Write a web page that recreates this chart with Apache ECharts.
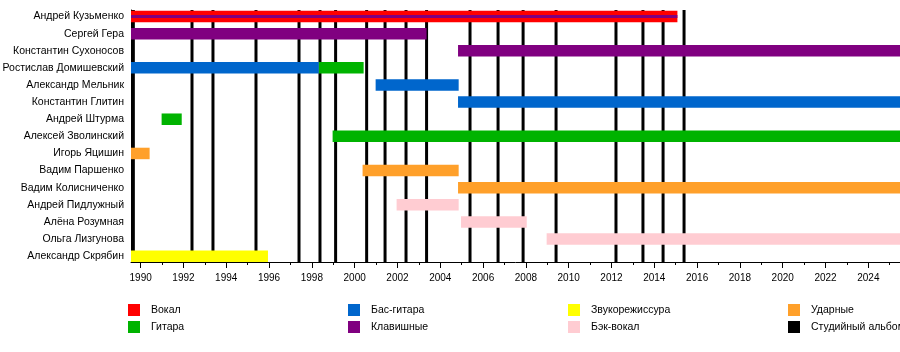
<!DOCTYPE html>
<html>
<head>
<meta charset="utf-8">
<script src="https://cdn.jsdelivr.net/npm/echarts@6/dist/echarts.min.js"></script>
<style>
html,body{margin:0;padding:0;background:#fff;}
#chart{width:900px;height:352px;}
</style>
</head>
<body>
<div id="chart"></div>
<script>
// ---- data ----
const members = ['Андрей Кузьменко','Сергей Гера','Константин Сухоносов','Ростислав Домишевский','Александр Мельник','Константин Глитин','Андрей Штурма','Алексей Зволинский','Игорь Яцишин','Вадим Паршенко','Вадим Колисниченко','Андрей Пидлужный','Алёна Розумная','Ольга Лизгунова','Александр Скрябин'];
const roles = ['Вокал','Гитара','Бас-гитара','Клавишные','Звукорежиссура','Бэк-вокал','Ударные','Студийный альбом'];
const timelineStart = 1989.55;
const timelineEnd = 2025.48;
// [member index, start year, end year, role]
const periods = [
  [0, 1989.55, 2015.08, 'Вокал'],
  [1, 1989.55, 2003.36, 'Клавишные'],
  [2, 2004.83, 2025.48, 'Клавишные'],
  [3, 1989.55, 1998.32, 'Бас-гитара'],
  [3, 1998.32, 2000.42, 'Гитара'],
  [4, 2000.98, 2004.86, 'Бас-гитара'],
  [5, 2004.83, 2025.48, 'Бас-гитара'],
  [6, 1990.98, 1991.92, 'Гитара'],
  [7, 1998.97, 2025.48, 'Гитара'],
  [8, 1989.55, 1990.42, 'Ударные'],
  [9, 2000.37, 2004.86, 'Ударные'],
  [10, 2004.83, 2025.48, 'Ударные'],
  [11, 2001.96, 2004.86, 'Бэк-вокал'],
  [12, 2004.97, 2008.04, 'Бэк-вокал'],
  [13, 2008.97, 2025.48, 'Бэк-вокал'],
  [14, 1989.55, 1995.95, 'Звукорежиссура']
];
// secondary roles (drawn as thin bars)
const secondaryPeriods = [
  [0, 1989.55, 2015.08, 'Клавишные']
];
const studioAlbums = [1989.66, 1992.40, 1993.38, 1995.39, 1997.40, 1998.38, 1999.11, 2000.56, 2001.42, 2002.40, 2003.36, 2005.39, 2006.70, 2007.87, 2009.41, 2012.21, 2013.47, 2014.41, 2015.39];
const majorTicks = [1990,1992,1994,1996,1998,2000,2002,2004,2006,2008,2010,2012,2014,2016,2018,2020,2022,2024];
const minorTicks = [1990,1991,1992,1993,1994,1995,1996,1997,1998,1999,2000,2001,2002,2003,2004,2005,2006,2007,2008,2009,2010,2011,2012,2013,2014,2015,2016,2017,2018,2019,2020,2021,2022,2023,2024,2025];

// ---- styles ----
const roleColors = {
  'Вокал':'#FF0000','Гитара':'#00B300','Бас-гитара':'#0066CC','Клавишные':'#800080',
  'Звукорежиссура':'#FFFF00','Бэк-вокал':'#FFCCD2','Ударные':'#FFA02A','Студийный альбом':'#000000'
};
const FONT = '"Liberation Sans", Arial, sans-serif';
const BAR_H = 11.5, THIN_H = 3;
const GRID_TOP = 10, GRID_BOTTOM = 90, CHART_H = 352;
const GRID_H = CHART_H - GRID_TOP - GRID_BOTTOM;

const chart = echarts.init(document.getElementById('chart'), null, {renderer:'canvas'});

function barRender(params, api){
  const r = api.value(0), s = api.value(1), e = api.value(2), layer = api.value(3);
  const p1 = api.coord([s, r]);
  const p2 = api.coord([e, r]);
  const h = layer ? THIN_H : BAR_H;
  const cs = params.coordSys;
  const x1 = Math.max(p1[0], cs.x), x2 = Math.min(p2[0], cs.x + cs.width);
  return {type:'rect', shape:{x:x1, y:p1[1]-h/2, width:x2-x1, height:h}, style:{fill: api.visual('color')}};
}

const series = [];
series.push({
  type:'custom', name:'Студийный альбом', z:1, silent:true,
  itemStyle:{color:roleColors['Студийный альбом']},
  encode:{x:0},
  data: studioAlbums.map(y=>[y]),
  renderItem:function(params, api){
    const x = api.coord([api.value(0), 0])[0];
    const cs = params.coordSys;
    return {type:'line', shape:{x1:x, y1:cs.y, x2:x, y2:cs.y+cs.height}, style:{stroke:'#000', lineWidth:3}};
  }
});
roles.filter(r=>r!=='Студийный альбом').forEach(role=>{
  const data = periods.filter(p=>p[3]===role).map(p=>[p[0],p[1],p[2],0])
    .concat(secondaryPeriods.filter(p=>p[3]===role).map(p=>[p[0],p[1],p[2],1]));
  series.push({
    type:'custom', name:role, z:2, silent:true,
    itemStyle:{color:roleColors[role]},
    encode:{y:0, x:[1,2]},
    data:data,
    renderItem:barRender
  });
});
// row labels
series.push({
  type:'custom', z:3, silent:true, clip:false,
  encode:{y:0},
  data: members.map((m,i)=>[i]),
  renderItem:function(params, api){
    const i = api.value(0);
    const p = api.coord([timelineStart, i]);
    return {type:'text', style:{text:members[i], x:p[0]-7, y:p[1], align:'right', verticalAlign:'middle', font:'10.5px '+FONT, fill:'#000'}};
  }
});

function legendCol(items, left){
  return {
    data: items, orient:'vertical', left:left, top:304, padding:0,
    itemWidth:12, itemHeight:12, itemGap:5, icon:'rect', selectedMode:false,
    textStyle:{fontSize:10.5, fontFamily:FONT, color:'#000', padding:[0,0,0,6]}
  };
}

chart.setOption({
  animation:false,
  backgroundColor:'#fff',
  grid:{left:131, right:0, top:GRID_TOP, bottom:GRID_BOTTOM, containLabel:false},
  xAxis:[{
    type:'value', min:timelineStart, max:timelineEnd, position:'bottom',
    axisLine:{show:true, onZero:false, lineStyle:{color:'#000', width:1}},
    axisTick:{show:true, length:6, customValues:majorTicks, lineStyle:{color:'#000', width:1}},
    axisLabel:{show:true, customValues:majorTicks, fontSize:10, fontFamily:FONT, color:'#000', margin:11, formatter:v=>String(Math.round(v))},
    splitLine:{show:false}
  },{
    // minor yearly ticks, moved down onto the bottom axis line
    type:'value', min:timelineStart, max:timelineEnd, position:'top', offset:-GRID_H,
    axisLine:{show:false, onZero:false},
    axisTick:{show:true, inside:true, length:3, customValues:minorTicks, lineStyle:{color:'#000', width:1}},
    axisLabel:{show:false},
    splitLine:{show:false}
  }],
  yAxis:{
    type:'value', inverse:true, min:-0.38, max:14.34,
    axisLine:{show:true, onZero:false, lineStyle:{color:'#000', width:1}},
    axisTick:{show:false}, axisLabel:{show:false}, splitLine:{show:false}
  },
  legend:[
    legendCol(['Вокал','Гитара'],128),
    legendCol(['Бас-гитара','Клавишные'],348),
    legendCol(['Звукорежиссура','Бэк-вокал'],568),
    legendCol(['Ударные','Студийный альбом'],788)
  ],
  series:series
});
</script>
</body>
</html>
